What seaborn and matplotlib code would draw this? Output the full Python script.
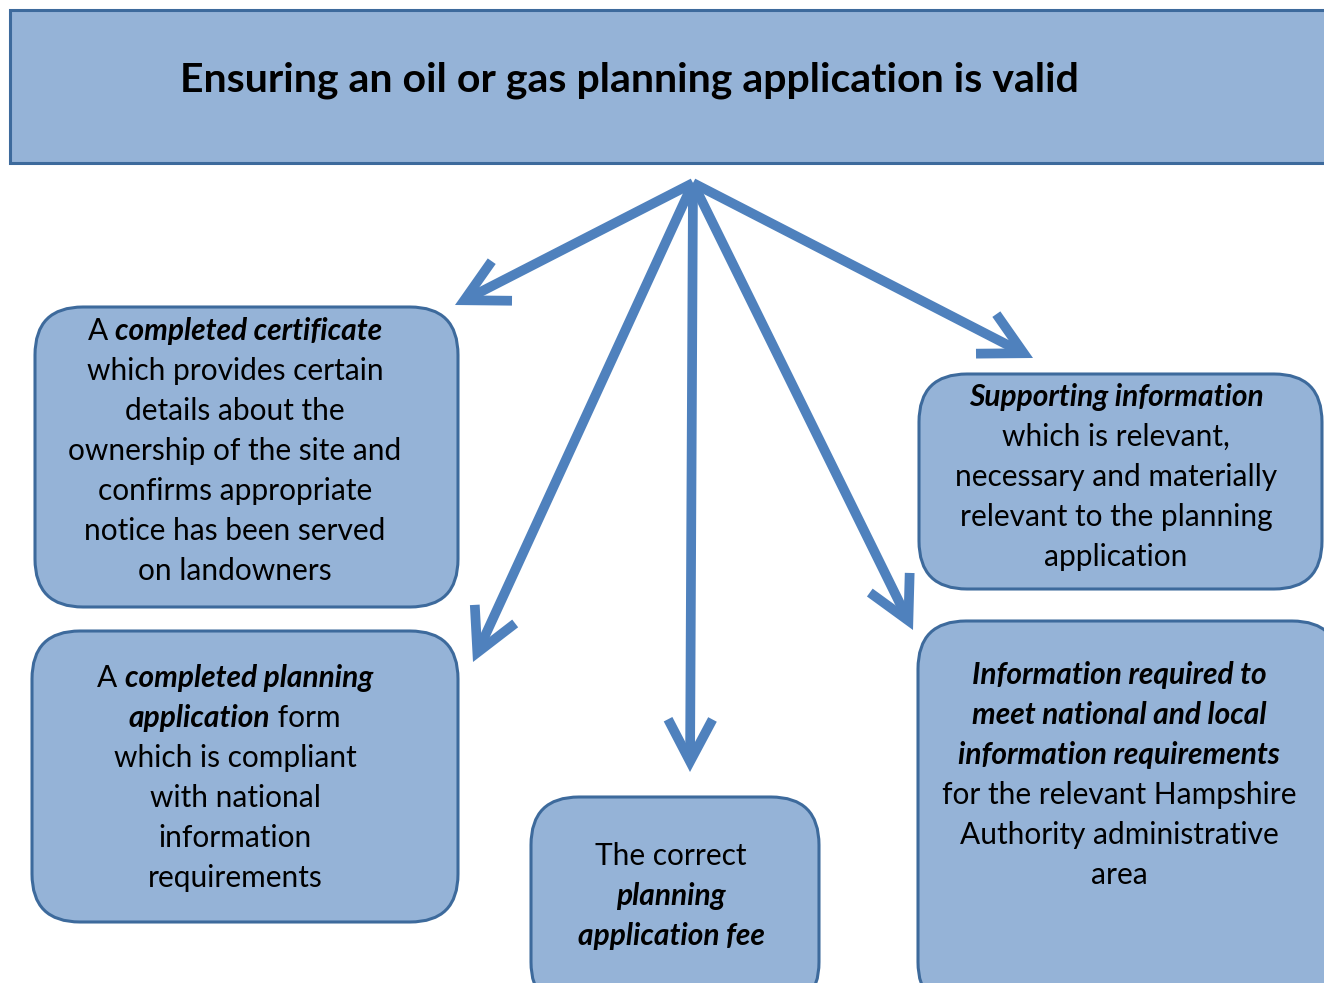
import matplotlib
matplotlib.use("Agg")
import matplotlib.pyplot as plt
import seaborn as sns
from matplotlib.patches import FancyBboxPatch, FancyArrowPatch

# ---- content ----
title = "Ensuring an oil or gas planning application is valid"

# each line is a list of (text, emphasised?) segments
box_certificate = [
    [("A ", False), ("completed certificate", True)],
    [("which provides certain", False)],
    [("details about the", False)],
    [("ownership of the site and", False)],
    [("confirms appropriate", False)],
    [("notice has been served", False)],
    [("on landowners", False)],
]
box_form = [
    [("A ", False), ("completed planning", True)],
    [("application", True), (" form", False)],
    [("which is compliant", False)],
    [("with national", False)],
    [("information", False)],
    [("requirements", False)],
]
box_fee = [
    [("The correct", False)],
    [("planning", True)],
    [("application fee", True)],
]
box_supporting = [
    [("Supporting information", True)],
    [("which is relevant,", False)],
    [("necessary and materially", False)],
    [("relevant to the planning", False)],
    [("application", False)],
]
box_local = [
    [("Information required to", True)],
    [("meet national and local", True)],
    [("information requirements", True)],
    [("for the relevant Hampshire", False)],
    [("Authority administrative", False)],
    [("area", False)],
]

# ---- layout (pixels, y downward) ----
W, H = 1324, 983
FILL = "#95b3d7"
EDGE = "#3d6a9c"
ARROW = "#4f81bd"

boxes = [
    # x0, y0, x1, y1, text centre x, first line y, lines
    (35, 307, 458, 607, 235, 331, box_certificate),
    (32, 631, 458, 922, 235, 678, box_form),
    (531, 797, 819, 1010, 671, 856, box_fee),
    (919, 374, 1322, 589, 1116, 397, box_supporting),
    (918, 621, 1340, 1010, 1119, 675, box_local),
]
apex = (693, 183)
arrow_tips = [(455, 305), (473, 662), (690, 772), (913, 630), (1033, 358)]
LINE_GAP = 40
FS = 21.5

sns.set_theme(style="white")
plt.rcParams["font.family"] = ["Lato", "DejaVu Sans"]

fig = plt.figure(figsize=(W / 100, H / 100), dpi=100)
ax = fig.add_axes([0, 0, 1, 1])
ax.set_xlim(0, W)
ax.set_ylim(H, 0)
ax.axis("off")

# header bar
ax.add_patch(plt.Rectangle((10, 10), 1330, 153, facecolor=FILL,
                           edgecolor=EDGE, linewidth=2.2, zorder=1))
ax.text(629, 80, title, ha="center", va="center", fontsize=29.5,
        fontweight="bold", color="black", zorder=5)

# arrows
for tip in arrow_tips:
    arr = FancyArrowPatch(apex, tip, arrowstyle="->,head_length=0.95,head_width=0.5",
                          mutation_scale=32, color=ARROW, linewidth=7,
                          shrinkA=0, shrinkB=0, joinstyle="miter",
                          capstyle="butt", zorder=2)
    ax.add_patch(arr)

renderer = fig.canvas.get_renderer()


def draw_line(cx, y, segments):
    texts = []
    for txt, emph in segments:
        t = ax.text(0, y, txt, ha="left", va="center", fontsize=FS,
                    fontweight="bold" if emph else "normal",
                    fontstyle="italic" if emph else "normal",
                    color="black", zorder=5)
        texts.append(t)
    widths = [t.get_window_extent(renderer).width for t in texts]
    x = cx - sum(widths) / 2
    for t, w in zip(texts, widths):
        t.set_x(x)
        x += w


for x0, y0, x1, y1, cx, ty, lines in boxes:
    ax.add_patch(FancyBboxPatch((x0, y0), x1 - x0, y1 - y0,
                                boxstyle="round,pad=0,rounding_size=48",
                                facecolor=FILL, edgecolor=EDGE,
                                linewidth=2.2, zorder=3))
    for i, segs in enumerate(lines):
        draw_line(cx, ty + i * LINE_GAP, segs)

fig.savefig("out.png", dpi=100, facecolor="white")
